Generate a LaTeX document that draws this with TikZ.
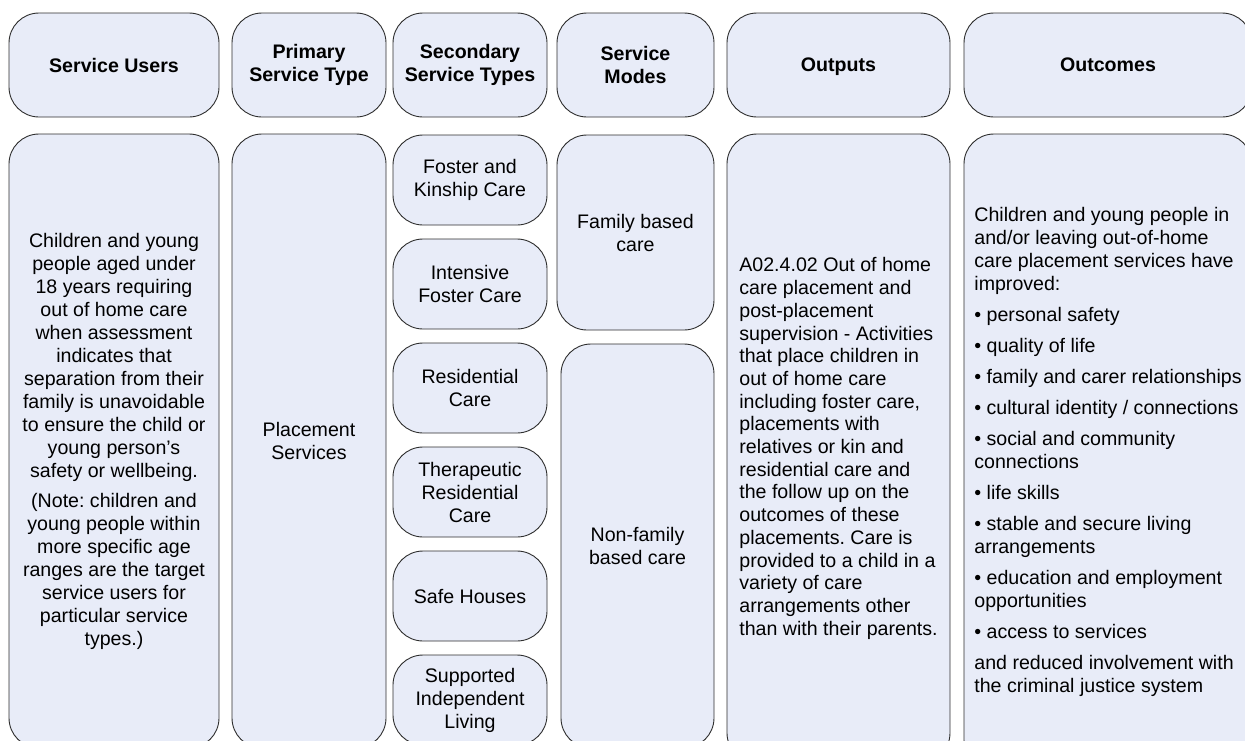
\documentclass[tikz,border=0pt]{standalone}
\usepackage{fontspec}
\setmainfont{Liberation Sans}
\usetikzlibrary{positioning, chains}
\definecolor{boxfill}{HTML}{E8ECF8}
\definecolor{boxline}{HTML}{2E2E2E}
\newcommand\boxfont{\fontsize{19.6}{23}\selectfont\frenchspacing}

\tikzset{
  box/.style = {draw=boxline, fill=boxfill, line width=0.9pt,
    rounded corners=30pt, inner sep=0pt, outer sep=0pt, font=\boxfont},
  headbox/.style = {box, minimum height=104pt, align=center,
    font=\boxfont\bfseries},
  bodybox/.style = {box, minimum height=614pt},
  subbox/.style = {box, minimum width=154pt, minimum height=90pt,
    align=center, on chain}
}

\begin{document}
\begin{tikzpicture}[x=1pt, y=-1pt]
  \useasboundingbox (0,0) rectangle (1245,740);
  \clip (0,0) rectangle (1245,740);

  % column heads
  \node[headbox, minimum width=210pt, text depth=0pt] (usershead) at (114,65) {Service Users};
  \node[headbox, minimum width=154pt] (primhead) at (309,65) {Primary\\Service Type};
  \node[headbox, minimum width=154pt] (sechead) at (470,65) {Secondary\\Service Types};
  \node[headbox, minimum width=157pt] (modehead) at (635.5,65) {Service\\Modes};
  \node[headbox, minimum width=223pt, text depth=0pt] (outhead) at (838.5,65) {Outputs};
  \node[headbox, minimum width=288pt, text depth=0pt] (outchead) at (1108,65) {Outcomes};

  % service users
  \node[bodybox, minimum width=210pt, align=center] (users) at (114,441)
    {Children and young\\people aged under\\18 years requiring\\out of home care\\when assessment\\indicates that\\separation from their\\family is unavoidable\\to ensure the child or\\young person’s\\safety or wellbeing.\\[7pt]
     (Note: children and\\young people within\\more specific age\\ranges are the target\\service users for\\particular service\\types.)};

  \node[bodybox, minimum width=154pt, align=center] (primary) at (309,441) {Placement\\Services};

  % secondary service types
  \begin{scope}[start chain=going below, node distance=14pt]
    \coordinate[on chain] (sectop) at (470,121);
    \foreach \kind [count=\k] in {{Foster and\\Kinship Care}, {Intensive\\Foster Care},
        {Residential\\Care}, {Therapeutic\\Residential\\Care}, {Safe Houses},
        {Supported\\Independent\\Living}}
      \node[subbox] (sec\k) {\kind};
  \end{scope}

  % service modes
  \node[box, minimum width=157pt, minimum height=195pt, align=center] (family) at (635.5,232.5) {Family based\\care};
  \node[box, minimum width=153pt, minimum height=404pt, align=center] (nonfamily) at (637.5,546) {Non-family\\based care};

  % outputs
  \node[bodybox, minimum width=223pt, minimum height=629pt, align=left,
    font=\fontsize{19.6}{22.7}\selectfont\frenchspacing] (outputs) at (838.5,448.5)
    {A02.4.02 Out of home\\care placement and\\post-placement\\supervision - Activities\\that place children in\\out of home care\\including foster care,\\placements with\\relatives or kin and\\residential care and\\the follow up on the\\outcomes of these\\placements. Care is\\provided to a child in a\\variety of care\\arrangements other\\than with their parents.};

  % outcomes
  \node[bodybox, minimum width=288pt, minimum height=636pt, align=left] (outcomes) at (1108,452)
    {Children and young people in\\and/or leaving out-of-home\\care placement services have\\improved:\\[8pt]
     • personal safety\\[8pt]
     • quality of life\\[8pt]
     • family and carer relationships\\[8pt]
     • cultural identity / connections\\[8pt]
     • social and community\\connections\\[8pt]
     • life skills\\[8pt]
     • stable and secure living\\arrangements\\[8pt]
     • education and employment\\opportunities\\[8pt]
     • access to services\\[8pt]
     and reduced involvement with\\the criminal justice system};
\end{tikzpicture}
\end{document}
